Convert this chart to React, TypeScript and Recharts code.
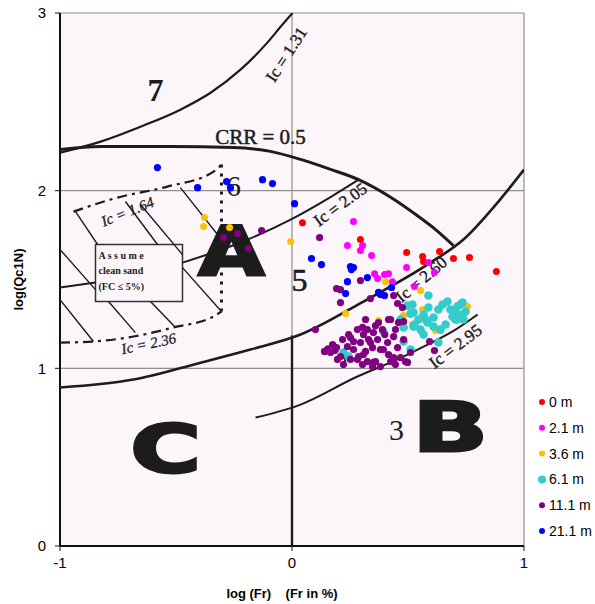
import React from 'react';
import { ScatterChart, Scatter, XAxis, YAxis, CartesianGrid, ReferenceArea } from 'recharts';

type Pt = { x: number; y: number };
const P = (arr: number[][]): Pt[] => arr.map(([x, y]) => ({ x, y }));

// ---------- measured series (log Fr, log Qc1N) ----------
const seriesNames = ['0 m', '2.1 m', '3.6 m', '6.1 m', '11.1 m', '21.1 m'];
const seriesColors = ['#ff0000', '#ff00ff', '#ffc000', '#33cccc', '#800080', '#0000ff'];

const depth0: Pt[] = P([
  [0.045, 1.82], [0.295, 1.725], [0.494, 1.652], [0.563, 1.629], [0.567, 1.601],
  [0.636, 1.657], [0.696, 1.618], [0.765, 1.624], [0.881, 1.545],
]);
const depth21: Pt[] = P([
  [0.265, 1.826], [0.239, 1.691], [0.304, 1.691], [0.295, 1.663], [0.343, 1.635],
  [0.494, 1.567], [0.588, 1.595], [0.614, 1.539], [0.356, 1.533], [0.399, 1.528],
  [0.416, 1.533], [0.369, 1.505], [0.433, 1.488], [0.528, 1.46],
]);
const depth36: Pt[] = P([
  [-0.377, 1.849], [-0.381, 1.798], [-0.269, 1.792], [-0.006, 1.714], [0.403, 1.488],
  [0.554, 1.438], [0.231, 1.308], [0.373, 1.269], [0.481, 1.297], [0.563, 1.331],
  [0.756, 1.348], [0.619, 1.213], [0.519, 1.247], [0.567, 1.286],
]);
const depth61: Pt[] = P([
  [0.588, 1.41], [0.498, 1.353], [0.511, 1.308], [0.468, 1.275], [0.481, 1.23],
  [0.524, 1.235], [0.545, 1.275], [0.567, 1.303], [0.584, 1.258], [0.61, 1.286],
  [0.61, 1.235], [0.631, 1.331], [0.649, 1.359], [0.67, 1.376], [0.683, 1.331],
  [0.692, 1.291], [0.705, 1.32], [0.726, 1.359], [0.735, 1.303], [0.739, 1.275],
  [0.748, 1.32], [0.705, 1.275], [0.662, 1.247], [0.64, 1.218], [0.567, 1.19],
  [0.631, 1.145], [0.524, 1.314], [0.554, 1.218], [0.588, 1.342], [0.519, 1.359],
  [0.481, 1.151], [0.394, 1.207], [0.222, 1.089], [0.244, 1.066], [0.511, 1.106],
  [0.713, 1.348], [0.735, 1.37], [0.713, 1.275], [0.576, 1.275], [0.528, 1.247],
]);
const depth111: Pt[] = P([
  [-0.295, 1.736], [-0.235, 1.759], [-0.188, 1.674], [-0.131, 1.775], [0.119, 1.736],
  [0.295, 1.494], [0.192, 1.449], [0.209, 1.443], [0.209, 1.37], [0.101, 1.218],
  [0.338, 1.393], [0.438, 1.41], [0.455, 1.365], [0.476, 1.342], [0.317, 1.275],
  [0.304, 1.23], [0.593, 1.151], [0.614, 1.1],
  [0.14, 1.095], [0.175, 1.134], [0.192, 1.117], [0.218, 1.162], [0.209, 1.066],
  [0.239, 1.123], [0.252, 1.173], [0.265, 1.106], [0.282, 1.05], [0.295, 1.145],
  [0.308, 1.078], [0.33, 1.162], [0.347, 1.117], [0.36, 1.038], [0.369, 1.162],
  [0.381, 1.106], [0.39, 1.218], [0.412, 1.145], [0.416, 1.078], [0.425, 1.038],
  [0.438, 1.179], [0.455, 1.117], [0.468, 1.061], [0.481, 1.162], [0.498, 1.033],
  [0.373, 1.258], [0.416, 1.275], [0.446, 1.218], [0.282, 1.218], [0.325, 1.218],
  [0.351, 1.201], [0.252, 1.05], [0.196, 1.05], [0.222, 1.021], [0.304, 1.021],
  [0.347, 1.01], [0.244, 1.19], [0.265, 1.151], [0.317, 1.095], [0.325, 1.038],
  [0.351, 1.033], [0.394, 1.106], [0.438, 1.061], [0.511, 1.089], [0.459, 1.258],
  [0.481, 1.263], [0.425, 1.275], [0.338, 1.145], [0.308, 1.19], [0.381, 1.01],
  [0.287, 1.066], [0.166, 1.089], [0.446, 1.021], [0.489, 1.038], [0.155, 1.11],
  [0.185, 1.1], [0.4, 1.19], [0.36, 1.24],
]);
const depth211: Pt[] = P([
  [-0.58, 2.13], [-0.407, 2.017], [-0.282, 2.051], [-0.265, 2.017], [-0.127, 2.062],
  [-0.084, 2.04], [0.011, 1.927], [0.084, 1.618], [0.127, 1.584], [0.252, 1.573],
  [0.265, 1.567], [0.256, 1.556], [0.325, 1.511], [0.239, 1.488], [0.231, 1.421],
  [0.429, 1.455], [0.381, 1.415], [0.399, 1.41], [0.373, 1.427],
]);
const seriesData = [depth0, depth21, depth36, depth61, depth111, depth211];
const seriesRadius = [3.5, 3.5, 3.5, 4.3, 3.6, 3.6];

// ---------- background classification chart ----------
const xTicks = [-1, 0, 1];
const yTicks = [0, 1, 2, 3];

const curveIc131 = P([[-1, 2.214], [-0.825, 2.276], [-0.653, 2.36], [-0.481, 2.456], [-0.351, 2.551], [-0.222, 2.681], [-0.114, 2.822], [-0.041, 2.935], [0.002, 3.0]]);
const curveCRR = P([[-1, 2.231], [-0.825, 2.248], [-0.524, 2.248], [-0.252, 2.243], [-0.093, 2.221], [0.037, 2.176], [0.166, 2.12], [0.287, 2.062], [0.425, 1.963], [0.532, 1.867], [0.619, 1.781], [0.696, 1.691]]);
const curveIc205Left = P([[-1, 1.455], [-0.847, 1.483]]);
const curveIc205Right = P([[-0.472, 1.595], [-0.222, 1.708], [-0.006, 1.837], [0.166, 1.964], [0.287, 2.062]]);
const curveIc260 = P([[-1, 0.892], [-0.683, 0.937], [-0.394, 1.032], [-0.179, 1.106], [0.037, 1.19], [0.308, 1.376], [0.597, 1.595], [0.739, 1.725], [0.886, 1.933], [1.0, 2.119]]);
const curveIc295 = P([[-0.157, 0.723], [0.037, 0.796], [0.282, 0.954], [0.455, 1.05], [0.567, 1.122], [0.705, 1.218], [0.8, 1.303]]);
const lineFrZero = P([[0, 1.185], [0, 0]]);
const dottedBoundary = P([[-0.304, 2.147], [-0.304, 1.32]]);
const dashIc164 = P([[-0.942, 1.882], [-0.752, 1.961], [-0.537, 2.023], [-0.338, 2.107], [-0.304, 2.147]]);
const dashIc236 = P([[-1, 1.145], [-0.856, 1.151], [-0.683, 1.179], [-0.511, 1.23], [-0.338, 1.292], [-0.304, 1.32]]);
const hatchLines: Pt[][] = [
  P([[-0.933, 1.882], [-0.838, 1.697]]),
  P([[-0.718, 1.939], [-0.58, 1.697]]),
  P([[-0.653, 1.922], [-0.472, 1.64]]),
  P([[-0.481, 2.017], [-0.304, 1.725]]),
  P([[-1, 1.669], [-0.847, 1.443]]),
  P([[-1, 1.387], [-0.856, 1.151]]),
  P([[-0.791, 1.376], [-0.675, 1.201]]),
  P([[-0.61, 1.376], [-0.502, 1.23]]),
  P([[-0.472, 1.567], [-0.304, 1.32]]),
];
const cleanSandBox = { x1: -0.847, x2: -0.472, y1: 1.376, y2: 1.697 };

const annotations = [
  { id: 'z7', text: '7', x: -0.588, y: 2.569 },
  { id: 'z6', text: '6', x: -0.252, y: 2.029 },
  { id: 'z5', text: '5', x: 0.032, y: 1.5 },
  { id: 'z4', text: '4', x: 0.218, y: 1.078 },
  { id: 'z3', text: '3', x: 0.45, y: 0.656 },
  { id: 'A', text: 'A', x: -0.261, y: 1.657 },
  { id: 'B', text: 'B', x: 0.683, y: 0.667 },
  { id: 'C', text: 'C', x: -0.545, y: 0.543 },
  { id: 'crr', text: 'CRR = 0.5', x: -0.136, y: 2.304 },
  { id: 'ic131', text: 'Ic = 1.31', x: -0.024, y: 2.766 },
  { id: 'ic205', text: 'Ic = 2.05', x: 0.209, y: 1.922 },
  { id: 'ic260', text: 'Ic = 2.60', x: 0.558, y: 1.5 },
  { id: 'ic295', text: 'Ic = 2.95', x: 0.705, y: 1.123 },
  { id: 'ic164', text: 'Ic = 1.64', x: -0.709, y: 1.882 },
  { id: 'ic236', text: 'Ic = 2.36', x: -0.618, y: 1.139 },
  { id: 'box1', text: 'A s s u m e', x: -0.834, y: 1.635 },
  { id: 'box2', text: 'clean sand', x: -0.834, y: 1.55 },
  { id: 'box3', text: '(FC \u2264 5%)', x: -0.834, y: 1.46 },
];

type AnnStyle = { size: number; font: string; weight?: string; rot?: number; sx?: number; italic?: boolean; anchor?: string; stroke?: number };
const serif = 'Liberation Serif, DejaVu Serif, serif';
const heavy = 'DejaVu Sans, Liberation Sans, sans-serif';
const annStyles: Record<string, AnnStyle> = {
  z7: { size: 32, font: serif, weight: 'bold' },
  z6: { size: 30, font: serif },
  z5: { size: 32, font: serif, stroke: 0.6 },
  z4: { size: 24, font: serif },
  z3: { size: 30, font: serif },
  A: { size: 68, font: heavy, weight: 'bold', sx: 1.25, stroke: 3 },
  B: { size: 68, font: heavy, weight: 'bold', sx: 1.45, stroke: 3 },
  C: { size: 66, font: heavy, weight: 'bold', sx: 1.45, stroke: 3 },
  crr: { size: 21, font: serif, stroke: 0.5 },
  ic131: { size: 17, font: serif, rot: -57, stroke: 0.4 },
  ic205: { size: 17, font: serif, rot: -36, stroke: 0.4 },
  ic260: { size: 17, font: serif, rot: -40, stroke: 0.4 },
  ic295: { size: 17, font: serif, rot: -37, stroke: 0.4 },
  ic164: { size: 15, font: serif, rot: -22, italic: true, stroke: 0.3 },
  ic236: { size: 15, font: serif, rot: -12, italic: true, stroke: 0.3 },
  box1: { size: 10, font: serif, weight: 'bold', anchor: 'start' },
  box2: { size: 10, font: serif, weight: 'bold', anchor: 'start' },
  box3: { size: 10, font: serif, weight: 'bold', anchor: 'start' },
};

const INK = '#1c1c1c';
const PLOT_BG = '#fcf6fb';

const AnnotationShape = (props: any) => {
  const { cx, cy, payload } = props;
  const s = annStyles[payload.id];
  return (
    <text
      transform={`translate(${cx},${cy}) rotate(${s.rot || 0}) scale(${s.sx || 1},1)`}
      textAnchor={s.anchor || 'middle'}
      dominantBaseline="central"
      fontFamily={s.font}
      fontSize={s.size}
      fontWeight={s.weight || 'normal'}
      fontStyle={s.italic ? 'italic' : 'normal'}
      fill={INK}
      stroke={s.stroke ? INK : 'none'}
      strokeWidth={s.stroke || 0}
    >
      {payload.text}
    </text>
  );
};

const noShape = () => <g />;

const bgCurves: { key: string; pts: Pt[]; w: number; dash?: string; type: 'monotoneX' | 'linear' }[] = [
  { key: 'ic131', pts: curveIc131, w: 2.2, type: 'monotoneX' },
  { key: 'crr', pts: curveCRR, w: 3, type: 'monotoneX' },
  { key: 'ic205a', pts: curveIc205Left, w: 2, type: 'linear' },
  { key: 'ic205b', pts: curveIc205Right, w: 2, type: 'monotoneX' },
  { key: 'ic260', pts: curveIc260, w: 2.6, type: 'monotoneX' },
  { key: 'ic295', pts: curveIc295, w: 2, type: 'monotoneX' },
  { key: 'fr0', pts: lineFrZero, w: 2.4, type: 'linear' },
  { key: 'dotted', pts: dottedBoundary, w: 3, dash: '3 6', type: 'linear' },
  { key: 'ic164', pts: dashIc164, w: 2.2, dash: '10 5 3 5', type: 'monotoneX' },
  { key: 'ic236', pts: dashIc236, w: 2.2, dash: '10 5 3 5', type: 'monotoneX' },
  ...hatchLines.map((h, i) => ({ key: 'hatch' + i, pts: h, w: 1.4, type: 'linear' as const })),
];

const W = 595;
const H = 604;

export default function App() {
  return (
    <div style={{ position: 'absolute', left: 0, top: 0, width: W, height: H, background: '#fff' }}>
      <ScatterChart width={W} height={H} margin={{ top: 13, right: 71, bottom: 0, left: 0 }}>
        <CartesianGrid stroke="#8f8f8f" strokeWidth={1.2} fill={PLOT_BG} fillOpacity={1} />
        <XAxis
          type="number"
          dataKey="x"
          domain={[-1, 1]}
          ticks={xTicks}
          allowDataOverflow
          height={58}
          tickSize={5}
          tickMargin={6}
          axisLine={{ stroke: '#111', strokeWidth: 2 }}
          tickLine={{ stroke: '#111' }}
          tick={{ fontSize: 15, fill: '#000', fontFamily: 'Liberation Sans, Arial, sans-serif' }}
          label={{
            content: (p: any) => {
              const vb = p.viewBox;
              return (
                <text x={vb.x + vb.width / 2 - 10} y={vb.y + 47} textAnchor="middle" dominantBaseline="central"
                  fontFamily="Liberation Sans, Arial, sans-serif" fontWeight="bold" fontSize={13} fill="#000"
                  style={{ whiteSpace: 'pre' }}>
                  {'log (Fr)    (Fr in %)'}
                </text>
              );
            },
          }}
        />
        <YAxis
          type="number"
          dataKey="y"
          domain={[0, 3]}
          ticks={yTicks}
          allowDataOverflow
          width={60}
          tickSize={5}
          tickMargin={9}
          axisLine={{ stroke: '#111', strokeWidth: 2 }}
          tickLine={{ stroke: '#111' }}
          tick={{ fontSize: 15, fill: '#000', fontFamily: 'Liberation Sans, Arial, sans-serif' }}
          label={{
            content: (p: any) => {
              const vb = p.viewBox;
              const cy = vb.y + vb.height / 2;
              return (
                <text transform={`translate(18,${cy}) rotate(-90)`} textAnchor="middle" dominantBaseline="central"
                  fontFamily="Liberation Sans, Arial, sans-serif" fontWeight="bold" fontSize={13} fill="#000">
                  log(Qc1N)
                </text>
              );
            },
          }}
        />
        {bgCurves.map((c) => (
          <Scatter
            key={c.key}
            name={c.key}
            data={c.pts}
            shape={noShape}
            line={{ stroke: INK, strokeWidth: c.w, strokeDasharray: c.dash, fill: 'none' }}
            lineJointType={c.type}
            legendType="none"
            isAnimationActive={false}
          />
        ))}
        <ReferenceArea
          x1={cleanSandBox.x1}
          x2={cleanSandBox.x2}
          y1={cleanSandBox.y1}
          y2={cleanSandBox.y2}
          fill={PLOT_BG}
          fillOpacity={1}
          stroke="#333"
          strokeWidth={1.5}
        />
        <Scatter name="labels" data={annotations} shape={AnnotationShape} legendType="none" isAnimationActive={false} />
        {seriesData.map((d, i) => (
          <Scatter
            key={seriesNames[i]}
            name={seriesNames[i]}
            data={d}
            fill={seriesColors[i]}
            shape={(p: any) => <circle cx={p.cx} cy={p.cy} r={seriesRadius[i]} fill={seriesColors[i]} />}
            isAnimationActive={false}
          />
        ))}
      </ScatterChart>
      <svg width={W} height={H} style={{ position: 'absolute', left: 0, top: 0, pointerEvents: 'none' }}>
        {seriesNames.map((n, i) => {
          const cy = 402 + i * 25.8;
          return (
            <g key={n}>
              <circle cx={542} cy={cy} r={i === 3 ? 4 : 3} fill={seriesColors[i]} />
              <text x={549} y={cy} dominantBaseline="central" fontFamily="Liberation Sans, Arial, sans-serif" fontSize={14} fill="#000">
                {n}
              </text>
            </g>
          );
        })}
      </svg>
    </div>
  );
}
